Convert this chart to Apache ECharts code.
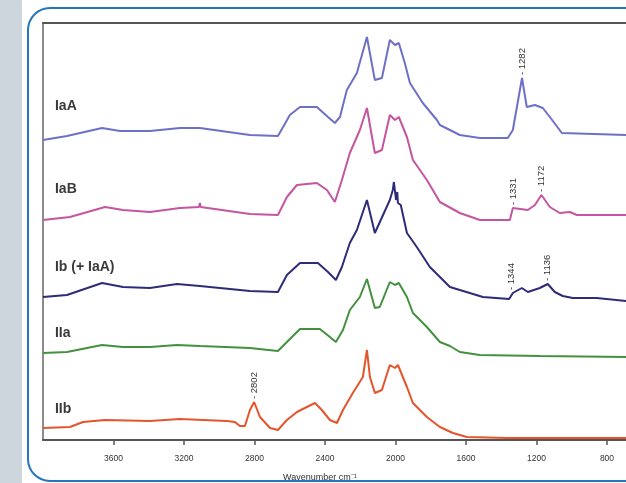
<!DOCTYPE html>
<html><head><meta charset="utf-8">
<script src="https://cdn.jsdelivr.net/npm/echarts/dist/echarts.min.js"></script>
<style>html,body{margin:0;padding:0;background:#fff}#c{width:626px;height:483px}</style>
</head><body><div id="c"></div>
<script>
// tick labels on the wavenumber axis
const tickLabels = [3600, 3200, 2800, 2400, 2000, 1600, 1200, 800];

// series names
const seriesNames = ['IaA', 'IaB', 'Ib (+ IaA)', 'IIa', 'IIb'];
const seriesColors = ['#6e70c6', '#c4559f', '#2e2c78', '#43913f', '#e6542b'];
const nameLabelWn = 3932;
const nameLabelVal = [334, 251, 173, 107, 31];

// IaA (offset spectrum, arbitrary units)
const iaAWn  = [4000,3864,3665,3563,3393,3223,3110,2826,2667,2599,2542,2446,2383,2344,2315,2276,2219,2162,2117,2077,2032,2003,1981,1947,1918,1845,1765,1748,1691,1635,1521,1363,1334,1282,1255,1209,1164,1124,1056,692];
const iaAVal = [300,304,312,309,309,312,312,305,304,325,333,333,323,317,323,350,367,403,360,362,400,395,397,377,357,337,320,315,310,305,302,302,310,362,333,335,332,323,307,305];

// IaB
const iaBWn  = [4000,3847,3648,3546,3393,3223,3115,3110,3105,2826,2667,2616,2559,2446,2389,2344,2304,2259,2202,2162,2117,2077,2032,2003,1981,1935,1901,1822,1748,1635,1521,1351,1334,1323,1249,1209,1172,1124,1068,1011,971,692];
const iaBVal = [220,223,233,230,228,232,233,237,233,226,225,243,255,257,250,238,260,287,310,332,287,290,325,320,323,303,280,260,238,227,220,220,232,230,230,235,245,233,227,228,225,225];

// Ib (+ IaA)
const ibWn  = [4000,3864,3665,3546,3393,3240,3110,2826,2667,2616,2542,2440,2383,2338,2304,2259,2219,2162,2117,2032,2015,2009,1997,1990,1986,1970,1935,1879,1805,1691,1635,1504,1355,1334,1283,1249,1181,1136,1096,1051,994,858,692];
const ibVal = [143,145,157,153,152,156,154,149,148,165,177,177,168,160,173,197,210,240,207,240,250,258,240,248,237,235,207,193,173,153,150,143,141,147,152,148,152,156,148,144,142,142,139];

// IIa
const iiaWn  = [4000,3864,3665,3546,3393,3240,3110,2826,2667,2616,2542,2429,2372,2338,2298,2259,2202,2162,2117,2089,2032,2003,1981,1935,1901,1822,1748,1691,1635,1521,1181,692];
const iiaVal = [87,88,95,93,93,95,94,92,89,98,111,111,103,98,110,130,143,161,132,133,158,155,157,143,127,113,98,94,88,85,84,83];

// IIb
const iibWn  = [4000,3847,3773,3648,3393,3223,2956,2911,2883,2854,2826,2802,2769,2712,2667,2616,2559,2503,2457,2418,2372,2332,2298,2242,2185,2162,2145,2117,2077,2032,2003,1986,1935,1901,1822,1748,1674,1595,1368,692];
const iibVal = [12,13,18,20,19,21,19,18,14,14,30,38,23,12,10,20,28,33,37,30,20,17,30,47,63,90,63,47,50,75,72,75,53,37,23,13,7,3,2,2];

// peak annotations: series index, wavenumber, value at peak
const peakSeries = [0, 1, 1, 2, 2, 4];
const peakWn     = [1282, 1331, 1172, 1344, 1136, 2802];
const peakVal    = [362, 232, 245, 147, 156, 38];

const wnArrays = [iaAWn, iaBWn, ibWn, iiaWn, iibWn];
const valArrays = [iaAVal, iaBVal, ibVal, iiaVal, iibVal];

const FONT = 'Liberation Sans, Arial, sans-serif';
const chart = echarts.init(document.getElementById('c'), null, {renderer: 'canvas'});

const series = seriesNames.map((name, i) => {
  const mp = [{
    coord: [nameLabelWn, nameLabelVal[i]],
    label: {show: true, position: 'right', distance: 0, formatter: name,
            fontSize: 14, fontWeight: 'bold', color: '#3a3a3a', fontFamily: FONT}
  }];
  peakSeries.forEach((s, k) => {
    if (s === i) {
      mp.push({
        coord: [peakWn[k], peakVal[k]],
        label: {show: true, position: 'top', distance: 3, rotate: 90, align: 'left', verticalAlign: 'middle',
                formatter: '- ' + peakWn[k], fontSize: 9.5, color: '#333', fontFamily: FONT}
      });
    }
  });
  return {
    name: name,
    type: 'line',
    data: wnArrays[i].map((w, j) => [w, valArrays[i][j]]),
    showSymbol: false,
    symbol: 'none',
    lineStyle: {color: seriesColors[i], width: 2},
    itemStyle: {color: seriesColors[i]},
    smooth: false,
    markPoint: {symbol: 'circle', symbolSize: 0, silent: true, data: mp}
  };
});

chart.setOption({
  animation: false,
  backgroundColor: '#ffffff',
  grid: {left: 43, top: 23, right: 0, height: 417, show: false},
  xAxis: [{
    type: 'value', inverse: true, min: 692, max: 4000,
    axisLine: {show: true, lineStyle: {color: '#555', width: 2}},
    axisTick: {show: true, length: 5, customValues: tickLabels, lineStyle: {color: '#555', width: 1.5}},
    axisLabel: {fontSize: 8.5, color: '#333', margin: 14, fontFamily: FONT, customValues: tickLabels,
                formatter: v => String(v)},
    splitLine: {show: false}
  }, {
    type: 'value', inverse: true, min: 692, max: 4000, position: 'top',
    axisLine: {show: true, lineStyle: {color: '#555', width: 2}},
    axisTick: {show: false}, axisLabel: {show: false}, splitLine: {show: false}
  }],
  yAxis: {type: 'value', min: 0, max: 417, axisLine: {show: true, lineStyle: {color: '#666', width: 1.5}},
          axisTick: {show: false}, axisLabel: {show: false}, splitLine: {show: false}},
  graphic: [
    {type: 'rect', left: 0, top: 0, z: -10, shape: {width: 22, height: 483}, style: {fill: '#cdd6dd'}},
    {type: 'rect', z: 100, shape: {x: 28, y: 8, width: 640, height: 473, r: 22},
     style: {fill: 'none', stroke: '#2577bd', lineWidth: 2}},
    {type: 'text', left: 283, top: 473, z: 100,
     style: {text: 'Wavenumber cm\u207B\u00B9', fontSize: 9, fill: '#333', fontFamily: FONT}}
  ],
  series: series
});
</script></body></html>
